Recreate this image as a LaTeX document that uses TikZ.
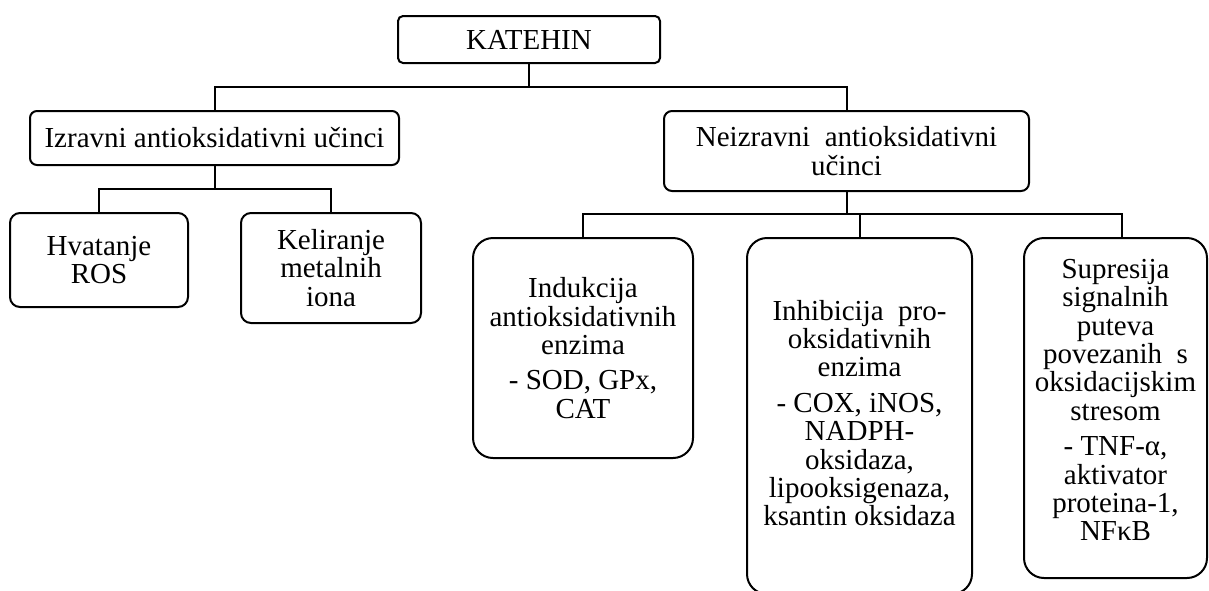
\documentclass[tikz,border=0pt]{standalone}
\usepackage{fontspec}
\setmainfont{Liberation Serif}
\begin{document}
\begin{tikzpicture}[x=1pt,y=-1pt,
  txt/.style={align=center, inner sep=0pt, font=\fontsize{29}{28.4}\selectfont},
  box/.style={draw, line width=2pt, txt},
  conn/.style={line width=2pt}]
\useasboundingbox (0,0) rectangle (1209,590);
% level 0
\node[box, rounded corners=5pt, minimum width=262pt, minimum height=47pt] (kat) at (529,39.5) {KATEHIN};
% level 1
\node[box, rounded corners=7pt, minimum width=369pt, minimum height=54pt] (izr) at (214.5,138) {Izravni\ antioksidativni\ učinci};
\node[box, rounded corners=8pt, minimum width=365pt, minimum height=80pt] (neiz) at (846.5,151) {Neizravni\ \ antioksidativni\\učinci};
% level 2 left
\node[box, rounded corners=10pt, minimum width=178pt, minimum height=94pt] (hv) at (99,260) {Hvatanje\\ROS};
\node[box, rounded corners=10pt, minimum width=180pt, minimum height=110pt] (kel) at (331,268) {Keliranje\\metalnih\\iona};
% level 2 right
\node[box, rounded corners=20pt, minimum width=220pt, minimum height=220pt] (ind) at (583,348) {Indukcija\\antioksidativnih\\enzima\\[7pt]- SOD, GPx,\\CAT};
\node[box, rounded corners=20pt, minimum width=225pt, minimum height=356pt] (inh) at (859.5,416) {};
\node[txt] (inht) at (859.5,413) {Inhibicija\ \ pro-\\oksidativnih\\enzima\\[7pt]- COX, iNOS,\\NADPH-\\oksidaza,\\lipooksigenaza,\\ksantin oksidaza};
\node[box, rounded corners=20pt, minimum width=183pt, minimum height=340pt] (sup) at (1115.5,408) {};
\node[txt] (supt) at (1115.5,400) {Supresija\\signalnih\\puteva\\povezanih\ \ s\\oksidacijskim\\stresom\\[7pt]- TNF-α,\\aktivator\\proteina-1,\\NFκB};
% junction levels
\coordinate (j1) at (530,87);
\coordinate (j2) at (215,189);
\coordinate (j3) at (847,214);
\coordinate (supn) at ([xshift=6pt]sup.north);
% connectors
\draw[conn] (kat.south) -- (kat.south |- j1);
\draw[conn] (izr.north) |- (neiz.north |- j1) -- (neiz.north);
\draw[conn] (izr.south) -- (izr.south |- j2);
\draw[conn] (hv.north) |- (kel.north |- j2) -- (kel.north);
\draw[conn] (neiz.south) -- (neiz.south |- j3);
\draw[conn] (ind.north) |- (supn |- j3) -- (supn);
\draw[conn] (inh.north) -- (inh.north |- j3);
\end{tikzpicture}
\end{document}
